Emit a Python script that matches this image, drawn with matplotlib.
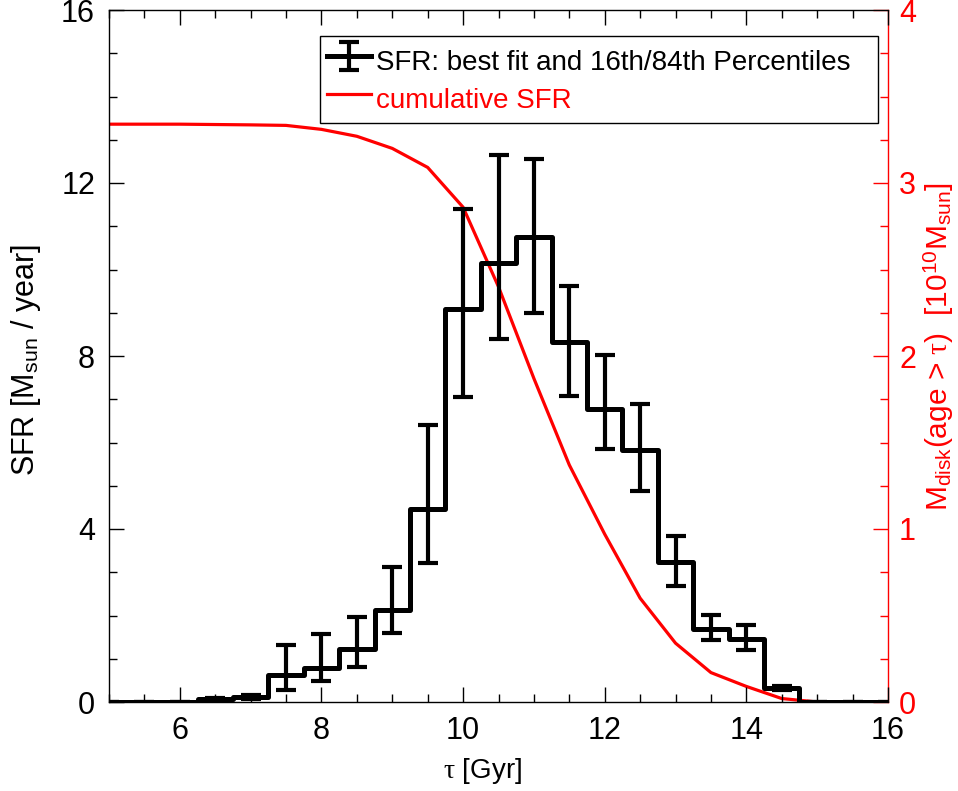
import matplotlib
matplotlib.use("Agg")
import matplotlib.pyplot as plt
from matplotlib.ticker import MultipleLocator

plt.rcParams['font.family'] = ['Liberation Sans', 'DejaVu Sans']
plt.rcParams['mathtext.fontset'] = 'custom'
plt.rcParams['mathtext.rm'] = 'Liberation Sans'
plt.rcParams['mathtext.it'] = 'Liberation Serif'
plt.rcParams['mathtext.bf'] = 'Liberation Sans:bold'

# ---- data ----
tau = [5.0, 5.5, 6.0, 6.5, 7.0, 7.5, 8.0, 8.5, 9.0, 9.5, 10.0, 10.5, 11.0,
       11.5, 12.0, 12.5, 13.0, 13.5, 14.0, 14.5, 15.0, 15.5, 16.0]
sfr = [0.0, 0.0, 0.0, 0.07, 0.115, 0.62, 0.79, 1.23, 2.13, 4.46, 9.09, 10.15, 10.75,
       8.32, 6.77, 5.83, 3.24, 1.69, 1.46, 0.32, 0.0, 0.0, 0.0]
sfr_p16 = [0.0, 0.0, 0.0, 0.05, 0.08, 0.28, 0.49, 0.81, 1.60, 3.21, 7.05, 8.39, 8.99,
           7.08, 5.85, 4.88, 2.68, 1.43, 1.20, 0.28, 0.0, 0.0, 0.0]
sfr_p84 = [0.0, 0.0, 0.0, 0.09, 0.16, 1.32, 1.57, 1.97, 3.12, 6.40, 11.40, 12.65, 12.55,
           9.62, 8.02, 6.89, 3.84, 2.01, 1.78, 0.36, 0.0, 0.0, 0.0]
cum_mass = [3.34, 3.34, 3.34, 3.338, 3.336, 3.333, 3.31, 3.27, 3.20, 3.09, 2.86, 2.40, 1.87,
            1.37, 0.97, 0.60, 0.34, 0.17, 0.09, 0.02, 0.0, 0.0, 0.0]

fig = plt.figure(figsize=(9.58, 7.91), dpi=100)
ax = fig.add_axes([109/958, 1-702/791, 779/958, 692/791])
ax2 = ax.twinx()

yerr_lo = [s - lo for s, lo in zip(sfr, sfr_p16)]
yerr_hi = [hi - s for s, hi in zip(sfr, sfr_p84)]

eb = ax.errorbar(tau, sfr, yerr=[yerr_lo, yerr_hi], color='black', lw=3.6,
                 drawstyle='steps-mid', elinewidth=3.0, capsize=7, capthick=3.0,
                 label='SFR: best fit and 16th/84th Percentiles', zorder=3)

ln, = ax2.plot(tau, cum_mass, color='red', lw=2.3, label='cumulative SFR', zorder=4)

ax.set_xlim(5, 16)
ax.set_ylim(0, 16)
ax2.set_ylim(0, 4)

ax.xaxis.set_major_locator(MultipleLocator(2))
ax.xaxis.set_minor_locator(MultipleLocator(0.5))
ax.yaxis.set_major_locator(MultipleLocator(4))
ax.yaxis.set_minor_locator(MultipleLocator(1))
ax2.yaxis.set_major_locator(MultipleLocator(1))
ax2.yaxis.set_minor_locator(MultipleLocator(0.25))

ax.tick_params(axis='both', which='both', direction='in', labelsize=22, width=1.0)
ax.tick_params(axis='x', which='both', top=True)
ax.tick_params(axis='y', which='both', right=False)
ax.tick_params(which='major', length=11, pad=10)
ax.tick_params(which='minor', length=5.5)
ax2.tick_params(axis='y', which='both', direction='in', colors='red', labelsize=22, width=1.0)
ax2.tick_params(which='major', length=11, pad=8)
ax2.tick_params(which='minor', length=5.5)
ax2.spines['right'].set_color('red')
ax2.spines['right'].set_linewidth(1.0)
for s in ['left', 'top', 'bottom']:
    ax.spines[s].set_linewidth(1.0)
    ax2.spines[s].set_visible(False)
ax.spines['right'].set_visible(False)

ax.set_xlabel(r'$\tau$ [Gyr]', fontsize=20)
ax.set_ylabel(r'SFR [M$_{\rm sun}$ / year]', fontsize=22)
ax2.set_ylabel(r'M$_{\rm disk}$(age > $\tau$)  [10$^{10}$M$_{\rm sun}$]', fontsize=21.5,
               color='red')
ax.xaxis.set_label_coords(0.48, -0.078)
ax.yaxis.set_label_coords(-0.0847, 0.494)
ax2.yaxis.set_label_coords(1.0436, 0.513)

leg = ax.legend([eb, ln], [eb.get_label(), ln.get_label()], loc='upper left',
                bbox_to_anchor=(0.2709, 0.9624, 0.716, 0.0), mode='expand',
                borderaxespad=0, fontsize=20,
                frameon=True, fancybox=False, framealpha=1, edgecolor='black',
                handlelength=1.6, handletextpad=0.18, handleheight=1.6,
                borderpad=0.24, labelspacing=0.08)
leg.get_frame().set_linewidth(1.0)
leg.get_texts()[1].set_color('red')
leg.set_zorder(10)
ax.set_zorder(ax2.get_zorder() + 1)
ax.patch.set_visible(False)

fig.savefig('out.png', dpi=100)
